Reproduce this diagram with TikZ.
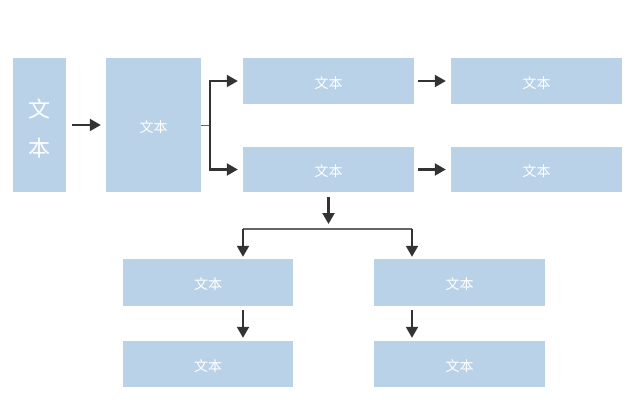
\documentclass[tikz,border=0pt]{standalone}
\usepackage{fontspec}
\newfontfamily\cjk{Noto Sans CJK SC}
\usetikzlibrary{arrows.meta}
\definecolor{boxblue}{HTML}{BAD2E7}
\definecolor{arrgray}{HTML}{333333}
\definecolor{linegray}{HTML}{666666}
\newcommand{\lowtxt}[2]{\raisebox{-#1}[\height][\depth]{#2}}
\tikzset{
  box/.style={fill=boxblue, draw=none, inner sep=0pt, text=white, font=\cjk\fontsize{14}{16}\selectfont},
  arr/.style={draw=arrgray, line width=2.1pt, -{Triangle[length=11pt,width=12pt]}},
  thinline/.style={draw=linegray, line width=1.2pt},
}
\begin{document}
\begin{tikzpicture}[x=1pt,y=-1pt]
\useasboundingbox (0,0) rectangle (640,409);
\node[box, minimum width=53pt, minimum height=134pt, font=\cjk\fontsize{22}{39}\selectfont] (b1) at (39.5,125) {\lowtxt{4pt}{\parbox{30pt}{\centering 文\\本}}};
\node[box, minimum width=95pt, minimum height=134pt] (b2) at (153.5,125) {\lowtxt{2pt}{文本}};
\node[box, minimum width=171pt, minimum height=46pt] (b3) at (328.5,81) {\lowtxt{2pt}{文本}};
\node[box, minimum width=171pt, minimum height=46pt] (b4) at (536.5,81) {\lowtxt{2pt}{文本}};
\node[box, minimum width=171pt, minimum height=45pt] (b5) at (328.5,169.5) {\lowtxt{2pt}{文本}};
\node[box, minimum width=171pt, minimum height=45pt] (b6) at (536.5,169.5) {\lowtxt{2pt}{文本}};
\node[box, minimum width=170pt, minimum height=47pt] (b7) at (208,282.5) {\lowtxt{2pt}{文本}};
\node[box, minimum width=171pt, minimum height=47pt] (b8) at (459.5,282.5) {\lowtxt{2pt}{文本}};
\node[box, minimum width=170pt, minimum height=46pt] (b9) at (208,364) {\lowtxt{2pt}{文本}};
\node[box, minimum width=171pt, minimum height=46pt] (b10) at (459.5,364) {\lowtxt{2pt}{文本}};
\coordinate (j1) at (210,125);
\coordinate (j2) at (328.5,229);
\coordinate (jl) at (243,229);
\coordinate (jr) at (412,229);
% arrows
\draw[arr, shorten <=6pt, shorten >=5pt] (b1) -- (b2);
\draw[draw=linegray, line width=0.9pt] (b2.east) -- (j1);
\draw[arr, shorten >=5pt] (j1) |- (b3.west);
\draw[arr, shorten >=5pt] (j1) |- (b5.west);
\draw[arr, shorten <=4pt, shorten >=5pt] (b3) -- (b4);
\draw[arr, shorten <=4pt, shorten >=5pt] (b5) -- (b6);
\draw[arr, shorten <=5pt, shorten >=5pt] (b5.south) -- (j2);
\draw[thinline] (jl) -- (jr);
\draw[arr, shorten >=2pt] (jl) -- (jl |- b7.north);
\draw[arr, shorten >=2pt] (jr) -- (jr |- b8.north);
\draw[arr, shorten <=4pt, shorten >=3pt] (jl |- b7.south) -- (jl |- b9.north);
\draw[arr, shorten <=4pt, shorten >=3pt] (jr |- b8.south) -- (jr |- b10.north);
\end{tikzpicture}
\end{document}
